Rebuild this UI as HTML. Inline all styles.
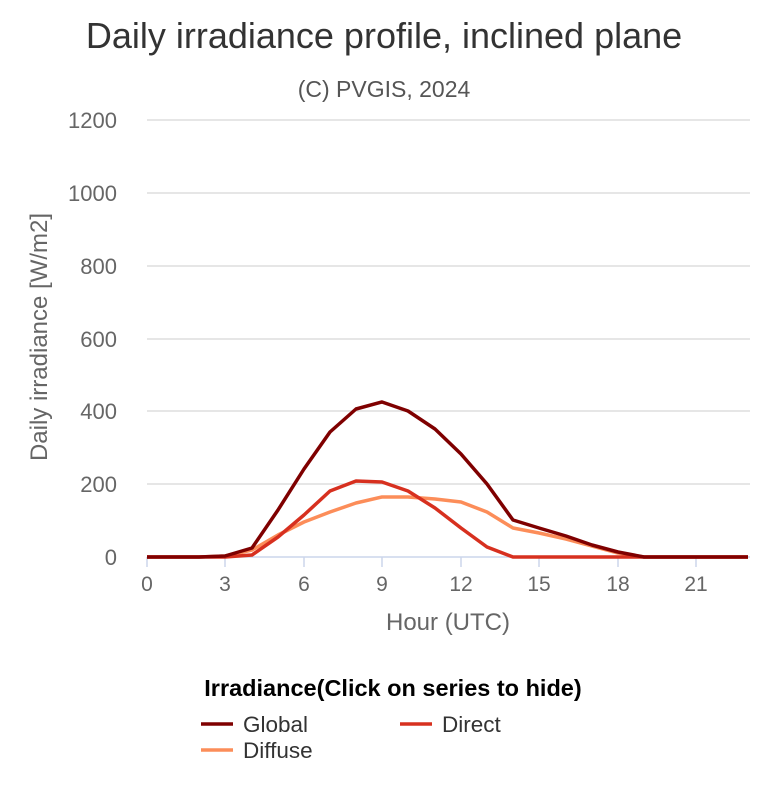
<!DOCTYPE html>
<html><head><meta charset="utf-8"><style>
body{margin:0;background:#fff;width:770px;height:800px;overflow:hidden;font-family:"Liberation Sans",sans-serif}
</style></head><body>
<svg width="770" height="800" xmlns="http://www.w3.org/2000/svg" font-family="Liberation Sans, sans-serif">
<text x="384" y="48" text-anchor="middle" font-size="36" fill="#333">Daily irradiance profile, inclined plane</text>
<text x="384" y="97" text-anchor="middle" font-size="23" fill="#555">(C) PVGIS, 2024</text>
<g stroke="#d6d6d6" stroke-width="1.3">
<line x1="147" x2="750" y1="120" y2="120"/><line x1="147" x2="750" y1="193" y2="193"/>
<line x1="147" x2="750" y1="266" y2="266"/><line x1="147" x2="750" y1="339" y2="339"/>
<line x1="147" x2="750" y1="411" y2="411"/><line x1="147" x2="750" y1="484" y2="484"/>
</g>
<line x1="147" x2="750" y1="557" y2="557" stroke="#ccd6eb" stroke-width="1.5"/>
<g stroke="#ccd6eb" stroke-width="1.5">
<line x1="147" x2="147" y1="557" y2="567"/><line x1="225" x2="225" y1="557" y2="567"/>
<line x1="304" x2="304" y1="557" y2="567"/><line x1="382" x2="382" y1="557" y2="567"/>
<line x1="461" x2="461" y1="557" y2="567"/><line x1="539" x2="539" y1="557" y2="567"/>
<line x1="618" x2="618" y1="557" y2="567"/><line x1="696" x2="696" y1="557" y2="567"/>
</g>
<g font-size="22" fill="#666" text-anchor="end">
<text x="117" y="128">1200</text><text x="117" y="201">1000</text><text x="117" y="274">800</text>
<text x="117" y="347">600</text><text x="117" y="419">400</text><text x="117" y="492">200</text><text x="117" y="565">0</text>
</g>
<g font-size="21" fill="#666" text-anchor="middle">
<text x="147" y="591">0</text><text x="225" y="591">3</text><text x="304" y="591">6</text><text x="382" y="591">9</text>
<text x="461" y="591">12</text><text x="539" y="591">15</text><text x="618" y="591">18</text><text x="696" y="591">21</text>
</g>
<text x="448" y="630" text-anchor="middle" font-size="24" fill="#666">Hour (UTC)</text>
<text transform="translate(47,337) rotate(-90)" text-anchor="middle" font-size="24" fill="#666">Daily irradiance [W/m2]</text>
<g fill="none" stroke-width="3.5" stroke-linejoin="round">
<polyline stroke="#fc8d59" points="147,557 173,557 199,557 225,556 252,550 278,535 304,522 330,512 356,503 382,497 408,497 435,499 461,502 487,512 513,528 539,533 566,539 592,546 618,553 644,557 670,557 696,557 722,557 748,557"/>
<polyline stroke="#d7301f" points="147,557 173,557 199,557 225,557 252,555 278,537 304,515 330,491 356,481 382,482 408,491 435,508 461,528 487,547 513,557 539,557 566,557 592,557 618,557 644,557 670,557 696,557 722,557 748,557"/>
<polyline stroke="#7f0000" points="147,557 173,557 199,557 225,556 252,548 278,510 304,469 330,432 356,409 382,402 408,411 435,429 461,454 487,484 513,520 539,528 566,536 592,545 618,552 644,557 670,557 696,557 722,557 748,557"/>
</g>
<text x="393" y="696" text-anchor="middle" font-size="23.5" font-weight="bold" fill="#000">Irradiance(Click on series to hide)</text>
<line x1="201" x2="233" y1="724" y2="724" stroke="#7f0000" stroke-width="3.5"/>
<text x="243" y="732" font-size="22.5" fill="#333">Global</text>
<line x1="400" x2="432" y1="724" y2="724" stroke="#d7301f" stroke-width="3.5"/>
<text x="442" y="732" font-size="22.5" fill="#333">Direct</text>
<line x1="201" x2="233" y1="750" y2="750" stroke="#fc8d59" stroke-width="3.5"/>
<text x="243" y="758" font-size="22.5" fill="#333">Diffuse</text>
</svg>
</body></html>
